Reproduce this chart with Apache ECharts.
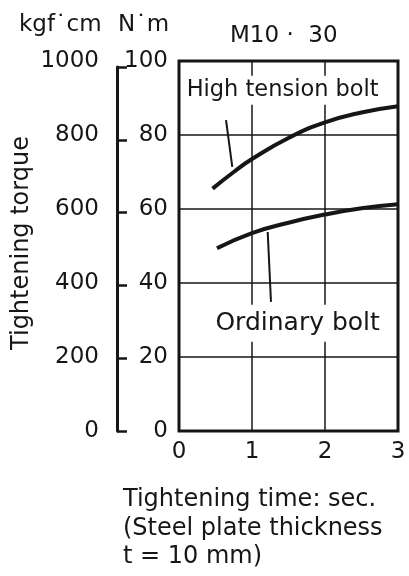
<!DOCTYPE html>
<html><head><meta charset="utf-8">
<script src="https://cdn.jsdelivr.net/npm/echarts@6/dist/echarts.min.js"></script>
<style>html,body{margin:0;padding:0;background:#fff}#c{width:409px;height:576px}</style>
</head><body><div id="c"></div>
<script>
// Data
const xTicks = [0, 1, 2, 3];
const nmTicks = [0, 20, 40, 60, 80, 100];
const kgfTicks = [0, 200, 400, 600, 800, 1000];
const highTensionX = [0.46, 0.75, 1.0, 1.5, 2.0, 2.5, 3.0];
const highTensionY = [65.5, 70.0, 73.5, 79.2, 83.4, 86.1, 87.8];
const ordinaryX = [0.52, 1.0, 1.5, 2.0, 2.5, 3.0];
const ordinaryY = [49.4, 53.5, 56.3, 58.5, 60.2, 61.3];
const labels = {
  high: 'High tension bolt', ordinary: 'Ordinary bolt', title: 'M10 \u00b7  30',
  yTitle: 'Tightening torque', kgfUnit: 'kgf\u02d9cm', nmUnit: 'N\u02d9m',
  xTitle: ['Tightening time: sec.', '(Steel plate thickness', 't = 10 mm)']
};
// annotation anchors (data space)
const highLabelAt = [1.42, 92.1];
const ordLabelAt = [1.625, 29.1];
const highLeader = [[0.644, 84.0], [0.73, 71.4]];
const ordLeader = [[1.215, 53.8], [1.26, 34.9]];

const FONT = 'DejaVu Sans';
const INK = '#161616';
const chart = echarts.init(document.getElementById('c'), null, {renderer: 'canvas'});
const pair = (xs, ys) => xs.map((x, i) => [x, ys[i]]);
chart.setOption({
  animation: false,
  backgroundColor: '#fff',
  textStyle: {fontFamily: FONT, color: INK},
  grid: [
    {left: 179, right: 11, top: 61, bottom: 145, show: true, borderColor: INK, borderWidth: 3, backgroundColor: 'transparent'},
    {left: 117, right: 200, top: 67, bottom: 145, show: false}
  ],
  xAxis: [
    {gridIndex: 0, type: 'value', min: 0, max: 3, interval: 1,
     axisLine: {show: false}, axisTick: {show: false},
     splitLine: {show: true, lineStyle: {color: INK, width: 1.5}},
     axisLabel: {fontFamily: FONT, fontSize: 23, color: INK, margin: 10,
       formatter: v => xTicks.includes(v) ? String(v) : ''}},
    {gridIndex: 1, type: 'value', min: 0, max: 1, show: false}
  ],
  yAxis: [
    {gridIndex: 0, type: 'value', min: 0, max: 100, interval: 20, position: 'left',
     axisLine: {show: false}, axisTick: {show: false},
     splitLine: {show: true, lineStyle: {color: INK, width: 1.5}},
     axisLabel: {fontFamily: FONT, fontSize: 23, color: INK, margin: 11,
       formatter: v => nmTicks.includes(v) ? String(v) : ''}},
    {gridIndex: 0, type: 'value', min: 0, max: 100, interval: 20, position: 'left', offset: 62,
     axisLine: {show: false}, axisTick: {show: false}, splitLine: {show: false},
     axisLabel: {fontFamily: FONT, fontSize: 23, color: INK, margin: 18,
       formatter: v => kgfTicks.includes(v * 10) ? String(v * 10) : ''}},
    {gridIndex: 1, type: 'value', min: 0, max: 1000, interval: 200, position: 'left',
     axisLine: {show: true, lineStyle: {color: INK, width: 3}},
     axisTick: {show: true, inside: true, length: 10, lineStyle: {color: INK, width: 2.5}},
     axisLabel: {show: false}, splitLine: {show: false}}
  ],
  series: [
    {type: 'line', xAxisIndex: 0, yAxisIndex: 0, data: pair(highTensionX, highTensionY), smooth: 0.5,
     showSymbol: false, symbol: 'none', lineStyle: {color: INK, width: 4}, z: 5,
     markPoint: {symbol: 'circle', symbolSize: 0, silent: true,
       data: [{coord: highLabelAt, value: labels.high}],
       label: {show: true, position: 'inside', formatter: labels.high, fontFamily: FONT, fontSize: 22.5,
         color: INK, backgroundColor: '#fff', padding: [3, 4]}},
     markLine: {symbol: 'none', silent: true, label: {show: false}, lineStyle: {color: INK, width: 2, type: 'solid'},
       data: [[{coord: highLeader[0]}, {coord: highLeader[1]}]]}},
    {type: 'line', xAxisIndex: 0, yAxisIndex: 0, data: pair(ordinaryX, ordinaryY), smooth: 0.5,
     showSymbol: false, symbol: 'none', lineStyle: {color: INK, width: 4}, z: 5,
     markPoint: {symbol: 'circle', symbolSize: 0, silent: true,
       data: [{coord: ordLabelAt, value: labels.ordinary}],
       label: {show: true, position: 'inside', formatter: labels.ordinary, fontFamily: FONT, fontSize: 25,
         color: INK, backgroundColor: '#fff', padding: [6, 4]}},
     markLine: {symbol: 'none', silent: true, label: {show: false}, lineStyle: {color: INK, width: 2, type: 'solid'},
       data: [[{coord: ordLeader[0]}, {coord: ordLeader[1]}]]}}
  ],
  graphic: [
    {type: 'text', left: 230, top: 25, style: {text: labels.title, font: '23px "DejaVu Sans"', fill: INK}},
    {type: 'text', left: 19, top: 14, style: {text: labels.kgfUnit, font: '23px "DejaVu Sans"', fill: INK}},
    {type: 'text', left: 118, top: 14, style: {text: labels.nmUnit, font: '23px "DejaVu Sans"', fill: INK}},
    {type: 'text', x: 22, y: 243, rotation: Math.PI / 2,
     style: {text: labels.yTitle, font: '24px "DejaVu Sans"', fill: INK, textAlign: 'center', textVerticalAlign: 'middle'}},
    {type: 'text', left: 123, top: 488, style: {text: labels.xTitle[0], font: '24px "DejaVu Sans"', fill: INK}},
    {type: 'text', left: 123, top: 517, style: {text: labels.xTitle[1], font: '24px "DejaVu Sans"', fill: INK}},
    {type: 'text', left: 123, top: 545, style: {text: labels.xTitle[2], font: '24px "DejaVu Sans"', fill: INK}}
  ]
});
</script></body></html>
